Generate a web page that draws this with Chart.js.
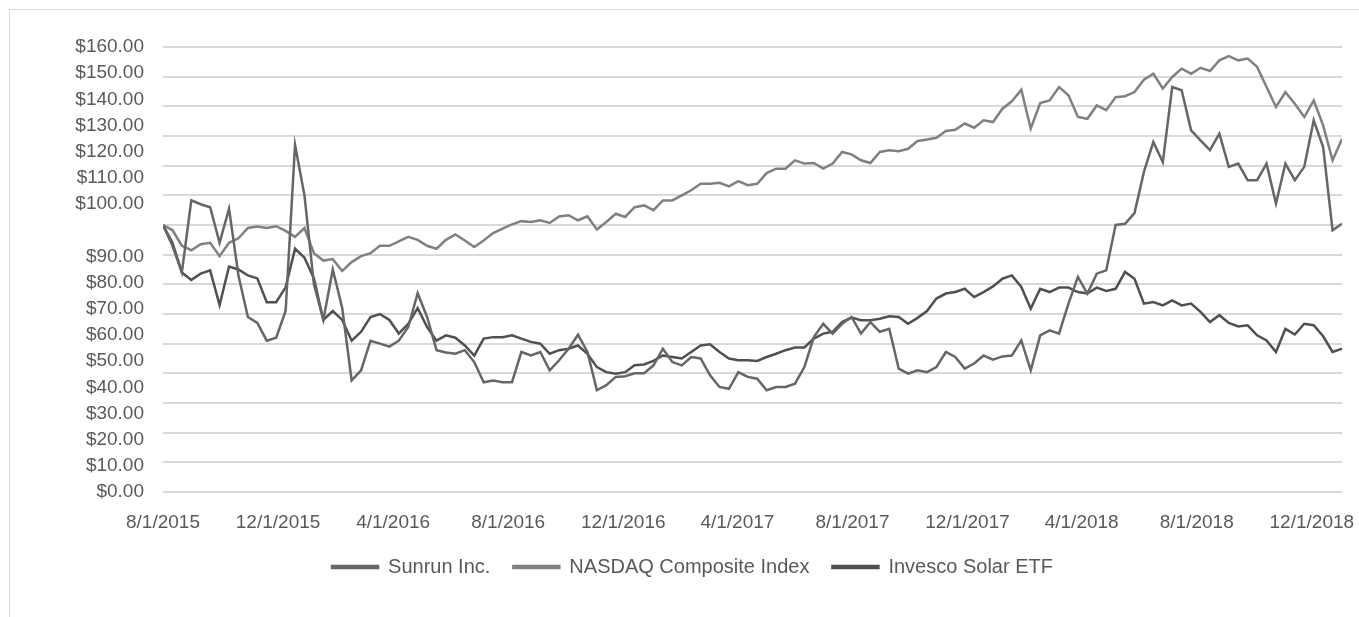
<!DOCTYPE html>
<html>
<head>
<meta charset="utf-8">
<script src="https://cdn.jsdelivr.net/npm/chart.js@4.4.1/dist/chart.umd.min.js"></script>
<style>
  html, body { margin: 0; background: #fff; overflow: hidden; }
  #frame { position: absolute; left: 9px; top: 9px; width: 1360px; height: 620px; border: 1px solid #d9d9d9; box-sizing: border-box; }
  #wrap { position: absolute; left: 10px; top: 10px; width: 1349px; height: 607px; }
</style>
</head>
<body>
<div id="frame"></div>
<div id="wrap"><canvas id="chartTsr"></canvas></div>
<script>
// values are indexed to 100 on 8/1/2015, one reading every 10 days
const startDate = "8/1/2015";
const sampleDays = 10;

const sunrun = [
  100, 93, 84, 108.3, 107, 106, 94, 105.5, 83, 69, 67, 61, 62, 71, 127, 110,
  80, 68, 85, 72, 47.6, 51, 61, 60, 59, 61, 65.6, 77, 69, 57.8, 57, 56.6,
  57.8, 53.8, 47, 47.6, 47, 47, 57.2, 56, 57.2, 51, 54.4, 58.3, 63, 57.2, 44.3,
  46, 48.8, 49, 50, 50, 52.7, 58.3, 53.8, 52.7, 55.5, 55, 49.3, 45.4, 44.8, 50.4, 48.8,
  48.2, 44.3, 45.4, 45.4, 46.5, 52.1, 62.2, 66.7, 63.4, 66.7, 69, 63.4, 67.3, 64, 65, 51.6,
  49.9, 51, 50.4, 52.1, 57.2, 55.5, 51.6, 53.3, 56, 54.6, 55.7, 56, 61.1, 51, 62.8, 64.5,
  63.4, 73.5, 82.5, 76.9, 83.6, 84.7, 100, 100.4, 104, 117.9, 128, 121.2, 146.5, 145.4, 131.9, 128.5,
  125.2, 130.8, 119.6, 120.7, 115.1, 115.1, 120.7, 107.2, 120.7, 115.1, 119.6, 135.3, 126.3, 98.2, 100.4
];
const nasdaq = [
  100, 98.3, 93, 91.5, 93.5, 94, 89.5, 94, 95.5, 99, 99.5, 99, 99.6, 98, 96, 99,
  90.5, 88, 88.5, 84.5, 87.5, 89.5, 90.5, 93, 93, 94.5, 96, 95, 93, 92, 95, 96.8,
  94.8, 92.6, 94.8, 97.3, 98.8, 100.2, 101.3, 101, 101.6, 100.7, 102.9, 103.3, 101.6, 102.9, 98.5,
  101, 103.8, 102.7, 106, 106.6, 105, 108.3, 108.3, 110, 111.7, 113.9, 113.9, 114.2, 113, 114.8, 113.4,
  113.9, 117.5, 119, 119, 121.8, 120.7, 120.9, 119, 120.7, 124.6, 123.8, 121.8, 120.9, 124.6, 125.2, 124.9,
  125.7, 128.3, 128.8, 129.4, 131.7, 132.1, 134.2, 132.8, 135.3, 134.7, 139.2, 141.7, 145.6, 132.5, 141.1, 142,
  146.5, 143.7, 136.4, 135.8, 140.3, 138.7, 143.1, 143.4, 144.8, 149, 151, 146, 149.9, 152.7, 151, 153,
  151.9, 155.5, 156.9, 155.5, 156.1, 153.3, 146.5, 139.8, 144.8, 140.9, 136.4, 142, 133.6, 121.8, 129
];
const invescoSolar = [
  100, 94, 84, 81.5, 83.6, 84.7, 73, 86, 85, 83, 82, 74, 74, 79, 92, 89,
  82, 68, 71, 68, 61, 64, 69, 70, 68, 63.4, 66.7, 72, 65.6, 61, 62.8, 62,
  59.4, 56, 61.7, 62.2, 62.2, 62.8, 61.7, 60.6, 60, 56.6, 57.8, 58.3, 59.4, 56.6, 52.1,
  50.4, 49.9, 50.4, 52.7, 53, 54.2, 56, 55.5, 55, 57.2, 59.4, 59.8, 57.2, 55, 54.4, 54.4,
  54.2, 55.5, 56.6, 57.8, 58.7, 58.7, 61.7, 63.4, 64, 67.3, 68.8, 67.9, 67.9, 68.4, 69.2, 69,
  66.7, 68.7, 71, 75.2, 76.9, 77.4, 78.5, 75.7, 77.4, 79.3, 81.9, 83, 79.1, 71.8, 78.5, 77.4,
  78.9, 78.9, 77.4, 76.9, 78.9, 77.8, 78.5, 84.2, 81.9, 73.5, 74, 72.9, 74.6, 72.9, 73.5, 70.7,
  67.3, 69.6, 67, 65.8, 66.2, 62.8, 61.1, 57.2, 65, 63.1, 66.7, 66.2, 62.5, 57.2, 58.3
];

const seriesNames = ["Sunrun Inc.", "NASDAQ Composite Index", "Invesco Solar ETF"];
const seriesColors = ["#666666", "#808080", "#505050"];

const xTickLabels = ["8/1/2015", "12/1/2015", "4/1/2016", "8/1/2016", "12/1/2016", "4/1/2017",
  "8/1/2017", "12/1/2017", "4/1/2018", "8/1/2018", "12/1/2018"];
// y labels as printed on the source, top to bottom (the source leaves a blank step under $100.00)
const yTickLabels = ["$160.00", "$150.00", "$140.00", "$130.00", "$120.00", "$110.00", "$100.00", "",
  "$90.00", "$80.00", "$70.00", "$60.00", "$50.00", "$40.00", "$30.00", "$20.00", "$10.00", "$0.00"];

function dayOf(s) {
  const [m, d, y] = s.split("/").map(Number);
  const [m0, d0, y0] = startDate.split("/").map(Number);
  return Math.round((Date.UTC(y, m - 1, d) - Date.UTC(y0, m0 - 1, d0)) / 86400000);
}
const xTickDays = xTickLabels.map(dayOf);
const toPoints = (arr) => arr.map((v, i) => ({ x: i * sampleDays, y: v }));

const txt = "#595959";
Chart.defaults.font.family = '"Liberation Sans", Arial, sans-serif';
Chart.defaults.color = txt;

new Chart(document.getElementById("chartTsr"), {
  type: "line",
  data: {
    datasets: [sunrun, nasdaq, invescoSolar].map((arr, k) => ({
      label: seriesNames[k],
      data: toPoints(arr),
      borderColor: seriesColors[k],
      backgroundColor: seriesColors[k],
      borderWidth: 2.5,
      pointRadius: 0,
      tension: 0,
    })),
  },
  options: {
    responsive: true,
    maintainAspectRatio: false,
    animation: false,
    layout: { padding: { left: 33, right: 17, top: 37, bottom: 30 } },
    plugins: {
      legend: { position: "bottom", labels: { boxWidth: 46, boxHeight: 2, padding: 23, color: txt, font: { size: 20 } } },
      tooltip: { enabled: false },
    },
    scales: {
      x: {
        type: "linear", min: 0, max: 1250,
        grid: { display: false }, border: { display: false },
        afterBuildTicks: (s) => { s.ticks = xTickDays.map((v) => ({ value: v })); },
        afterFit: (s) => { s.height = 42; s.paddingLeft = 0; s.paddingRight = 0; },
        ticks: { autoSkip: false, maxRotation: 0, padding: 11, font: { size: 19 }, callback: (v, i) => xTickLabels[i] },
      },
      y: {
        min: 10, max: 160,
        ticks: { display: false, stepSize: 10 },
        grid: { color: "#d9d9d9", lineWidth: 2, drawTicks: false },
        border: { display: false },
      },
      yLabels: {
        type: "category", position: "left", labels: yTickLabels, weight: 1,
        grid: { display: false, drawTicks: false }, border: { display: false },
        afterFit: (s) => { s.width = 120; },
        ticks: { autoSkip: false, padding: 19, font: { size: 19 } },
      },
    },
  },
});
</script>
</body>
</html>
